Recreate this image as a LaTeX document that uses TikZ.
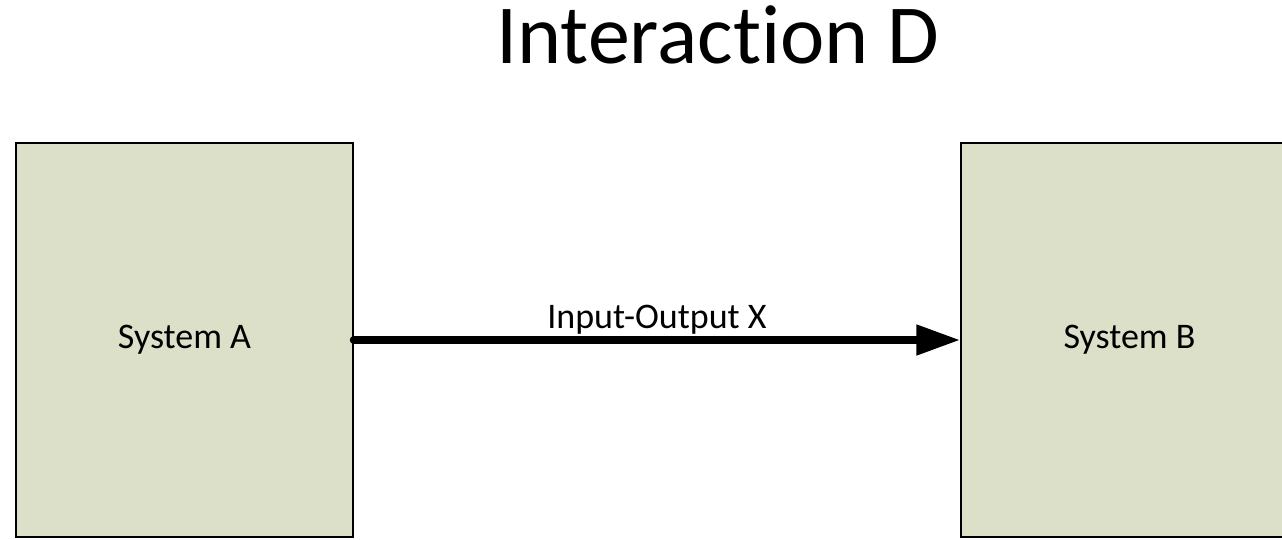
\documentclass[tikz,border=0pt]{standalone}
\usepackage{fontspec}
\setmainfont{Carlito}[Ligatures={NoCommon}]
\usepackage{tikz}
\usetikzlibrary{
	positioning,
	arrows.meta
}
\definecolor{sysfill}{HTML}{DDE0C9}

\begin{document}
\begin{tikzpicture}[x=1pt,y=-1pt,
	system/.style={draw=black,line width=1.5pt,fill=sysfill,inner sep=0pt,
		minimum width=337pt,minimum height=394pt,font=\fontsize{36}{40}\selectfont},
	flow/.style={line width=8pt,line cap=round,-{Triangle[length=44pt,width=29pt]}},
	heading/.style={anchor=base,font=\fontsize{84}{90}\selectfont}
]
	\useasboundingbox (0,0) rectangle (1282,539);
	\clip (0,0) rectangle (1282,539);
	\draw
		node [heading]            (title) at (718,63)    {Interaction D}
		node [system]             (sysA)  at (184.5,340) {System A}
		node [system]             (sysB)  at (1129.5,340) {System B}

		(sysA) edge[flow] node[above,inner sep=2pt,font=\fontsize{36}{40}\selectfont]{Input-Output X} (sysB)
	;
\end{tikzpicture}
\end{document}
